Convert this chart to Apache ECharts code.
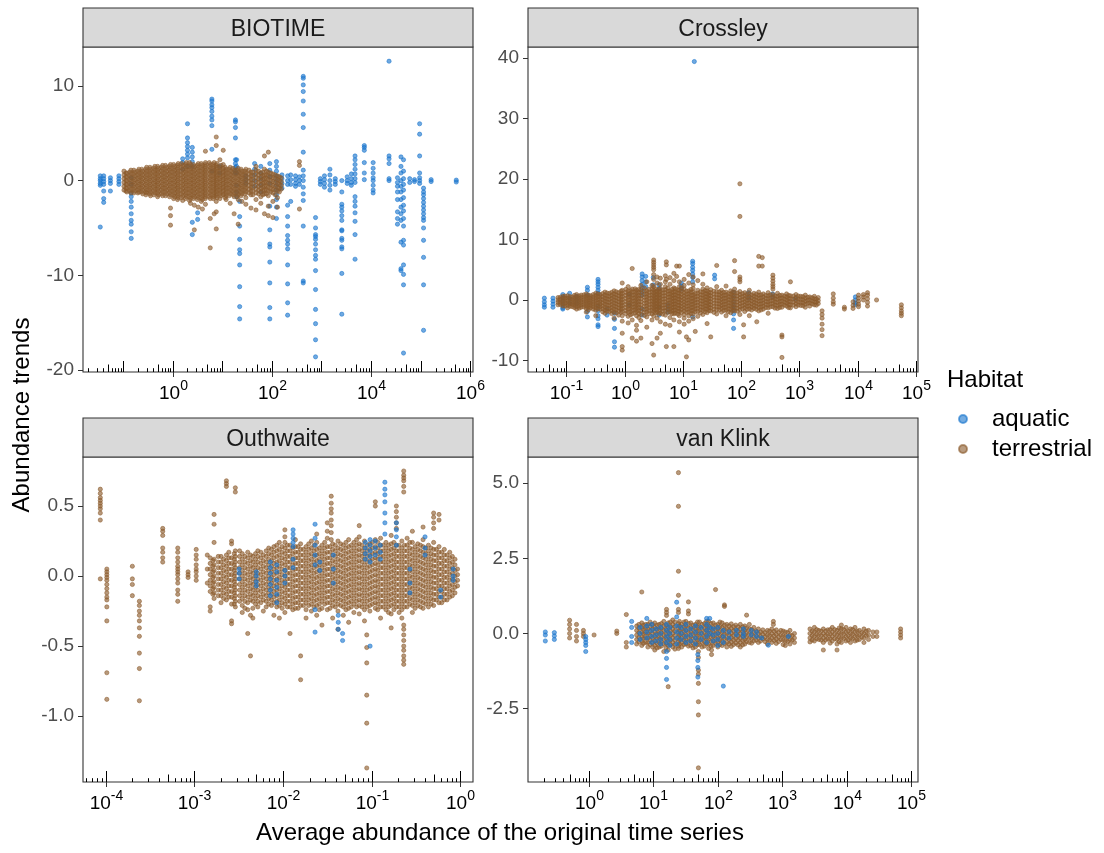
<!DOCTYPE html>
<html>
<head>
<meta charset="utf-8">
<script src="https://cdn.jsdelivr.net/npm/echarts@6/dist/echarts.min.js"></script>
<style>
  html, body { margin: 0; padding: 0; background: #fff; }
  #main { width: 1104px; height: 853px; }
</style>
</head>
<body>
<div id="main"></div>
<script>
// each column: [average abundance, trend, trend, ...]
const bioAquatic = [
  [0.035, 0.5, 0.2, 0, -0.3, -0.5, -4.9],
  [0.041, 0.5, 0.2, -0.1, -0.4, -1.1, -1.9, -2.3],
  [0.056, 0.3, 0, -0.3, -1.1],
  [0.083, 0.5, 0.2, -0.1, -0.4],
  [0.147, 0.3, -0.4, -1.3, -1.7, -2.2, -2.8, -3.5, -4.2, -4.6, -5.4, -6.1],
  [1.6, 2.3, 1.9, 1.2],
  [2.0, 6.0, 4.5, 4.0, 3.6, 3.2, 2.8, 2.4, 1.5],
  [2.5, 3.5, 3.0, 2.5, 2.0, 1.5, -4.4, -5.7],
  [3.2, -3.4, -4.1],
  [6.2, 8.6, 8.4, 8.0, 7.7, 7.3, 6.8, 6.4, 5.8, 3.3, 1.0],
  [8.9, 1.5, 0.8],
  [18.5, 6.4, 6.2, 5.6, 4.5, 2.2, 1.8, 1.4, 1.0, 0.8],
  [19.5, 2.2, 1.5, 0.8, -0.5, -1.2, -1.7],
  [22.5, -2.2, -3.8, -4.8, -6.2, -7.3, -7.7, -8.9, -11.2, -13.3, -14.6],
  [30, 0.5, 0.1, -0.3],
  [45, 1.8, 1.2, 0.6, 0, -0.6],
  [60, 1.5, 0.8, 0.2, -0.5, -1.2],
  [91, 1.8, 1.1, 0.4, -0.3, -2.7, -5.2, -6.7, -7.0, -8.6, -10.8, -13.4, -14.6],
  [124, 2.0, 1.5, 1.0, 0.5, 0, -0.5, -1.0, -1.5, -2.0, -2.8, -4.0],
  [160, 0.6, 0.2, -0.3, -0.8],
  [208, 0.5, 0, -0.4, -2.6, -3.8, -4.8, -5.8, -6.3, -6.7, -7.2, -8.9, -10.9, -12.9, -14.2],
  [240, 0.6, 0.1, -0.4, -2.2],
  [300, 0.5, 0.1, -0.3, -0.6],
  [360, 0.4, 0, -0.4],
  [430, 11.0, 10.8, 10.1, 9.4, 8.4, 7.0, 5.6, 3.0, 1.1, 0.5, 0, -0.7, -1.4, -2.1, -4.8, -10.6, -10.8],
  [760, -3.9, -5.0, -5.7, -5.9, -6.2, -6.7, -7.3, -7.9, -8.3, -9.5, -11.5, -13.6, -15.1, -16.8, -18.6],
  [950, 0.2, -0.1, -0.4],
  [1150, 0.5, 0.1, -0.3, -0.7],
  [1480, 1.2, 0.6, 0, -0.5, -1.0],
  [1900, 0.2, -0.1, -0.4],
  [2570, 0, -1.2, -2.5, -2.8, -3.2, -3.7, -4.2, -5.2, -5.3, -6.1, -6.3, -7.0, -7.2, -9.8, -14.1],
  [3300, 0.4, 0, -0.3],
  [4000, 0.7, 0.2, -0.2, -0.5],
  [4750, 2.6, 2.2, 1.7, 1.2, 0.7, 0.2, -0.2, -1.7, -2.2, -2.7, -3.4, -4.3, -5.7, -8.3],
  [7300, 3.7, 3.5, 3.2, 1.9, 0.8, 0.1],
  [11000, 1.9, 1.3, 0.8, 0.3, 0, -0.5, -1.0, -1.3],
  [23000, 12.6, 2.6, 2.3, 1.8, 0.2, 0],
  [34000, 0.3, -0.2, -0.6, -1.2, -2.0, -3.3, -4.0, -4.6],
  [40000, 2.5, 1.5, 0.8, 0, -0.6, -1.2, -2.0, -2.8, -3.5, -4.2, -6.5, -9.3, -9.5],
  [45000, 2.2, 1.0, 0.2, -0.4, -1.0, -1.8, -2.6, -3.2, -4.0, -4.8, -6.3, -6.8, -8.9, -9.9, -11.0, -18.2],
  [60000, 0.2, -0.2],
  [75000, 0.1, -0.1],
  [95000, 6.0, 4.9, 2.6, 0.8, 0.3, 0, -0.3],
  [114000, -0.8, -1.2, -1.5, -1.9, -2.3, -2.7, -3.1, -3.5, -3.9, -4.2, -5.0, -6.3, -8.1, -11.0, -15.8],
  [162000, 0.1, -0.1],
  [520000, 0.05, -0.15]
];

const bioTerrestrial = [
  [0.105, 1.0, 0.6, 0.2, -0.2, -0.6, -1.0],
  [0.115, 0.8, 0.4, 0, -0.4, -0.8, -1.1],
  [0.12, 0.8, 0.4, 0, -0.4, -0.8, -1.2],
  [0.138, 0.9, 0.5, 0.1, -0.3, -0.7, -1.1],
  [0.145, 1.1, 0.7, 0.3, -0.1, -0.5, -0.9, -1.3],
  [0.166, 1.1, 0.7, 0.3, -0.1, -0.5, -0.9, -1.3],
  [0.174, 0.9, 0.5, 0.1, -0.3, -0.7, -1.1],
  [0.20, 1.0, 0.6, 0.2, -0.2, -0.6, -1.0, -1.3],
  [0.21, 1.2, 0.8, 0.4, 0, -0.4, -0.8, -1.2],
  [0.24, 1.2, 0.8, 0.4, 0, -0.4, -0.8, -1.2],
  [0.25, 1.0, 0.6, 0.2, -0.2, -0.6, -1.0, -1.4],
  [0.29, 1.2, 0.8, 0.4, 0, -0.4, -0.8, -1.2, -1.5],
  [0.30, 1.4, 1.0, 0.6, 0.2, -0.2, -0.6, -1.0, -1.3],
  [0.35, 1.4, 1.0, 0.6, 0.2, -0.2, -0.6, -1.0, -1.4],
  [0.36, 1.2, 0.8, 0.4, 0, -0.4, -0.8, -1.2, -1.6],
  [0.42, 1.3, 0.9, 0.5, 0.1, -0.3, -0.7, -1.1, -1.5],
  [0.44, 1.5, 1.1, 0.7, 0.3, -0.1, -0.5, -0.9, -1.3],
  [0.50, 1.5, 1.1, 0.7, 0.3, -0.1, -0.5, -0.9, -1.3, -1.7],
  [0.52, 1.3, 0.9, 0.5, 0.1, -0.3, -0.7, -1.1, -1.5],
  [0.60, 1.4, 1.0, 0.6, 0.2, -0.2, -0.6, -1.0, -1.4],
  [0.63, 1.6, 1.2, 0.8, 0.4, 0, -0.4, -0.8, -1.2, -1.6],
  [0.72, 1.6, 1.2, 0.8, 0.4, 0, -0.4, -0.8, -1.2, -1.6],
  [0.76, 1.4, 1.0, 0.6, 0.2, -0.2, -0.6, -1.0, -1.4],
  [0.87, 1.5, 1.1, 0.7, 0.3, -0.1, -0.5, -0.9, -1.3, -1.7],
  [0.91, 1.7, 1.3, 0.9, 0.5, 0.1, -0.3, -0.7, -1.1, -1.5, -2.9, -3.7, -4.7],
  [1.05, 1.7, 1.3, 0.9, 0.5, 0.1, -0.3, -0.7, -1.1, -1.5, -1.9],
  [1.1, 1.5, 1.1, 0.7, 0.3, -0.1, -0.5, -0.9, -1.3, -1.7],
  [1.26, 1.6, 1.2, 0.8, 0.4, 0, -0.4, -0.8, -1.2, -1.6, -2.0],
  [1.3, 1.8, 1.4, 1.0, 0.6, 0.2, -0.2, -0.6, -1.0, -1.4, -1.8],
  [1.51, 1.8, 1.4, 1.0, 0.6, 0.2, -0.2, -0.6, -1.0, -1.4, -1.8],
  [1.6, 1.6, 1.2, 0.8, 0.4, 0, -0.4, -0.8, -1.2, -1.6, -2.1],
  [1.82, 1.7, 1.3, 0.9, 0.5, 0.1, -0.3, -0.7, -1.1, -1.5, -1.9],
  [1.9, 1.9, 1.5, 1.1, 0.7, 0.3, -0.1, -0.5, -0.9, -1.3, -1.7],
  [2.19, 1.9, 1.5, 1.1, 0.7, 0.3, -0.1, -0.5, -0.9, -1.3, -1.7, -2.1],
  [2.3, 1.7, 1.3, 0.9, 0.5, 0.1, -0.3, -0.7, -1.1, -1.5, -1.9, -2.4],
  [2.63, 1.7, 1.3, 0.9, 0.5, 0.1, -0.3, -0.7, -1.1, -1.5, -1.9],
  [2.75, 1.5, 1.1, 0.7, 0.3, -0.1, -0.5, -0.9, -1.3, -1.7, -2.6, -5.2],
  [3.16, 1.6, 1.2, 0.8, 0.4, 0, -0.4, -0.8, -1.2, -1.6, -2.0],
  [3.3, 1.8, 1.4, 1.0, 0.6, 0.2, -0.2, -0.6, -1.0, -1.4, -1.8, -2.8],
  [3.8, 1.8, 1.4, 1.0, 0.6, 0.2, -0.2, -0.6, -1.0, -1.4, -1.8, -2.2],
  [4.0, 1.6, 1.2, 0.8, 0.4, 0, -0.4, -0.8, -1.2, -1.6, -2.0, -3.0],
  [4.57, 1.7, 1.3, 0.9, 0.5, 0.1, -0.3, -0.7, -1.1, -1.5, -1.9],
  [4.6, 3.1, 1.9, 1.5, 1.1, 0.7, 0.3, -0.1, -0.5, -0.9, -1.3, -1.7, -2.5],
  [5.5, 1.9, 1.5, 1.1, 0.7, 0.3, -0.1, -0.5, -0.9, -1.3, -1.7],
  [5.75, 1.7, 1.3, 0.9, 0.5, 0.1, -0.3, -0.7, -1.1, -1.5, -1.9, -4.0, -7.1],
  [6.6, 1.7, 1.3, 0.9, 0.5, 0.1, -0.3, -0.7, -1.1, -1.5, -1.9],
  [6.9, 1.9, 1.5, 1.1, 0.7, 0.3, -0.1, -0.5, -0.9, -1.3, -1.7, -3.5],
  [7.6, 4.6, 3.7, 1.6, 1.2, 0.8, 0.4, 0, -0.4, -0.8, -1.2, -1.6, -2.2, -3.3, -5.1],
  [7.9, 1.8, 1.4, 1.0, 0.6, 0.2, -0.2, -0.6, -1.0, -1.4, -1.8],
  [9.0, 2.2, 1.4, 1.0, 0.6, 0.2, -0.2, -0.6, -1.0, -1.4, -1.9],
  [9.5, 1.6, 1.2, 0.8, 0.4, 0, -0.4, -0.8, -1.2, -1.6],
  [10.5, 3.2, 1.7, 1.3, 0.9, 0.5, 0.1, -0.3, -0.7, -1.1, -1.5],
  [11.5, 1.4, 1.0, 0.6, 0.2, -0.2, -0.6, -1.0, -1.4, -1.8],
  [12, 1.2, 0.8, 0.4, 0, -0.4, -0.8, -1.2, -1.6, -2.0],
  [13.8, 1.2, 0.8, 0.4, 0, -0.4, -0.8, -1.2, -1.6],
  [14.5, 1.4, 1.0, 0.6, 0.2, -0.2, -0.6, -1.0, -1.4, -2.4],
  [16.6, 1.3, 0.9, 0.5, 0.1, -0.3, -0.7, -1.1, -1.5],
  [17.4, 1.1, 0.7, 0.3, -0.1, -0.5, -0.9, -1.3, -1.7, -3.5],
  [20, 1.1, 0.7, 0.3, -0.1, -0.5, -0.9, -1.3, -1.7],
  [21, 1.3, 0.9, 0.5, 0.1, -0.3, -0.7, -1.1, -1.5, -2.0, -4.6],
  [24, 1.2, 0.8, 0.4, 0, -0.4, -0.8, -1.2, -1.6],
  [25, 1.0, 0.6, 0.2, -0.2, -0.6, -1.0, -1.4, -2.2],
  [28.8, 1.0, 0.6, 0.2, -0.2, -0.6, -1.0, -1.4],
  [30, 1.2, 0.8, 0.4, 0, -0.4, -0.8, -1.2, -1.8, -2.5],
  [34.7, 1.1, 0.7, 0.3, -0.1, -0.5, -0.9, -1.3],
  [38, 0.9, 0.5, 0.1, -0.3, -0.7, -1.1, -1.5, -2.9],
  [41.7, 0.9, 0.5, 0.1, -0.3, -0.7, -1.1, -1.5],
  [48, 1.5, 1.1, 0.7, 0.3, -0.1, -0.5, -0.9, -1.3, -2.0, -3.1],
  [54, 1.0, 0.6, 0.2, -0.2, -0.6, -1.0, -1.4],
  [60, 0.8, 0.4, 0, -0.4, -0.8, -1.2, -1.7, -2.4],
  [66, 0.9, 0.5, 0.1, -0.3, -0.7, -1.1, -1.5],
  [71, 2.6, 1.2, 0.6, 0.2, -0.2, -0.6, -1.0, -1.4, -3.5],
  [78, 1.0, 0.6, 0.2, -0.2, -0.6, -1.0, -1.4],
  [85, 3.0, 0.9, 0.5, 0.1, -0.3, -0.7, -1.1, -1.6, -2.7, -3.7],
  [95, 0.8, 0.4, 0, -0.4, -0.8, -1.2],
  [105, 0.7, 0.3, -0.1, -0.5, -0.9, -1.3, -2.2, -3.9],
  [117, 0.6, 0.2, -0.2, -0.6, -1.0, -1.5],
  [130, 0.5, 0.1, -0.3, -0.7, -1.1, -1.8, -2.8],
  [142, 0.4, 0, -0.4, -0.8, -1.2],
  [155, 0.3, -0.1, -0.5, -0.9],
  [360, 2.0, 1.6, -3.0]
];

const croAquatic = [
  [0.042, 0.3, -0.3, -0.8, -1.2],
  [0.059, 0.3, -0.2, -0.7, -1.2],
  [0.087, 0.9, 0.4, -0.2, -0.8, -1.3, -1.5],
  [0.114, 1.1, 0.3, -0.5],
  [0.15, 0.6, 0, -0.6],
  [0.23, 2.1, 1.6, 0.8, -1.9, -2.8],
  [0.35, 3.4, 3.0, 2.6, 2.1, 1.6, 1.1, -1.0, -1.8, -2.6, -3.1, -4.1, -4.4],
  [0.5, -1.5, -2.5],
  [0.67, -2.2, -3.2, -4.7, -6.9, -7.8],
  [1.2, 0.9, -0.8],
  [2.0, 4.3, 3.8, 3.2, 2.6, 2.0, 1.4, 0.8, -1.5, -2.5],
  [2.3, 3.9, 3.0, 2.2],
  [3.1, 3.7, 2.5],
  [3.9, 2.5, 1.9, -1.2, -2.5],
  [5.5, -0.8, -1.5, -2.0],
  [9.4, 2.8, 2.3, 1.8],
  [14.7, 6.4, 6.0, 5.4, 4.9, 4.3, 3.7, 3.0, -2.8],
  [15.7, 39.4],
  [35, 4.1, 3.5],
  [74, 1.3, 0.5, -0.3, -1.0, -1.6, -2.3, -3.3, -4.7],
  [134, 1.2, 0.3],
  [346, 1.0, 0.5],
  [850, 0.2],
  [9100, 0.5, 0, -0.5, -0.8]
];

const croTerrestrial = [
  [0.072, 0.4, 0, -0.4, -0.8],
  [0.079, 0.45, 0.05, -0.35, -0.75],
  [0.087, 0.6, 0.2, -0.2, -0.6, -1.0],
  [0.095, 0.65, 0.25, -0.15, -0.55, -0.95],
  [0.105, 0.7, 0.3, -0.1, -0.5, -0.9, -1.3],
  [0.115, 0.55, 0.15, -0.25, -0.65, -1.05],
  [0.126, 0.5, 0.1, -0.3, -0.7, -1.1],
  [0.138, 0.75, 0.35, -0.05, -0.45, -0.85, -1.25],
  [0.15, 0.9, 0.5, 0.1, -0.3, -0.7, -1.1, -1.5],
  [0.166, 0.65, 0.25, -0.15, -0.55, -0.95, -1.35],
  [0.18, 0.8, 0.4, 0, -0.4, -0.8, -1.2],
  [0.20, 0.85, 0.45, 0.05, -0.35, -0.75, -1.15],
  [0.22, 1.0, 0.6, 0.2, -0.2, -0.6, -1.0, -1.4, -2.0],
  [0.24, 0.8, 0.4, 0, -0.4, -0.8, -1.2, -1.6],
  [0.26, 0.7, 0.3, -0.1, -0.5, -0.9, -1.3],
  [0.29, 0.9, 0.5, 0.1, -0.3, -0.7, -1.1, -1.5],
  [0.32, 1.1, 0.7, 0.3, -0.1, -0.5, -0.9, -1.3, -1.7, -2.6],
  [0.35, 1.0, 0.55, 0.05, -0.45, -0.95, -1.45],
  [0.38, 0.9, 0.5, 0.1, -0.3, -0.7, -1.1, -1.5],
  [0.42, 1.05, 0.55, 0.05, -0.45, -0.95, -1.45, -1.95],
  [0.46, 1.3, 0.8, 0.3, -0.2, -0.7, -1.2, -1.7, -2.2],
  [0.50, 1.15, 0.65, 0.15, -0.35, -0.85, -1.35, -1.85],
  [0.55, 1.1, 0.6, 0.1, -0.4, -0.9, -1.4, -1.9],
  [0.60, 1.25, 0.75, 0.25, -0.25, -0.75, -1.25, -1.75, -2.25],
  [0.66, 1.5, 1.0, 0.5, 0, -0.5, -1.0, -1.5, -2.0, -3.0],
  [0.72, 1.35, 0.85, 0.35, -0.15, -0.65, -1.15, -1.65, -2.15],
  [0.79, 1.2, 0.7, 0.2, -0.3, -0.8, -1.3, -1.8, -2.5],
  [0.87, 1.45, 0.95, 0.45, -0.05, -0.55, -1.05, -1.55, -2.05],
  [0.91, 2.8, 1.6, 1.1, 0.6, 0.1, -0.4, -0.9, -1.4, -1.9, -2.6, -3.5, -5.5, -7.7, -8.3],
  [1.05, 1.75, 1.25, 0.75, 0.25, -0.25, -0.75, -1.25, -1.75, -2.25],
  [1.15, 2.2, 1.5, 1.0, 0.5, 0, -0.5, -1.0, -1.5, -2.0, -2.7, -3.8],
  [1.26, 1.55, 1.05, 0.55, 0.05, -0.45, -0.95, -1.45, -1.95, -2.45],
  [1.35, 5.2, 1.8, 1.3, 0.8, 0.3, -0.2, -0.7, -1.2, -1.7, -2.3, -3.3, -6.3],
  [1.51, 1.85, 1.35, 0.85, 0.35, -0.15, -0.65, -1.15, -1.65, -2.15],
  [1.6, 1.6, 1.1, 0.6, 0.1, -0.4, -0.9, -1.4, -1.9, -2.6, -4.2, -5.0, -6.8],
  [1.75, 1.75, 1.25, 0.75, 0.25, -0.25, -0.75, -1.25, -1.75, -2.25, -2.9],
  [1.9, 2.4, 1.7, 1.2, 0.7, 0.2, -0.3, -0.8, -1.3, -1.8, -2.4, -3.4, -6.3],
  [2.19, 1.95, 1.45, 0.95, 0.45, -0.05, -0.55, -1.05, -1.55, -2.05, -2.55],
  [2.4, 3.0, 1.5, 1.0, 0.5, 0, -0.5, -1.0, -1.5, -2.0, -2.8, -4.5],
  [2.63, 1.75, 1.25, 0.75, 0.25, -0.25, -0.75, -1.25, -1.75, -2.25],
  [2.95, 2.4, 1.8, 1.3, 0.8, 0.3, -0.2, -0.7, -1.2, -1.7, -2.3, -3.3, -7.2],
  [3.15, 6.6, 6.2, 5.8, 5.4, 5.0, 4.2, 3.4, 2.2, 1.6, 1.1, 0.6, 0.1, -0.4, -0.9, -1.4, -1.9, -2.6, -9.1],
  [3.4, 1.85, 1.35, 0.85, 0.35, -0.15, -0.65, -1.15, -1.65, -2.15],
  [3.6, 3.8, 2.8, 1.5, 1.0, 0.5, 0, -0.5, -1.0, -1.5, -2.0, -3.0, -6.3],
  [3.85, 1.75, 1.25, 0.75, 0.25, -0.25, -0.75, -1.25, -1.75, -2.25],
  [4.1, 3.6, 2.6, 1.9, 1.4, 0.9, 0.4, -0.1, -0.6, -1.1, -1.6, -2.2, -3.6, -5.5],
  [4.5, 1.65, 1.15, 0.65, 0.15, -0.35, -0.85, -1.35, -1.85, -2.35],
  [5.0, 4.0, 3.0, 2.2, 1.7, 1.2, 0.7, 0.2, -0.3, -0.8, -1.3, -1.8, -2.5, -4.0],
  [5.2, 6.3, 5.8, 3.4, -7.7],
  [5.5, 1.95, 1.45, 0.95, 0.45, -0.05, -0.55, -1.05, -1.55, -2.05],
  [6.0, 3.7, 2.6, 1.5, 1.0, 0.5, 0, -0.5, -1.0, -1.5, -2.0, -2.9, -4.2],
  [6.5, 1.75, 1.25, 0.75, 0.25, -0.25, -0.75, -1.25, -1.75, -2.25],
  [7.0, 4.4, 3.2, 2.0, 1.3, 0.8, 0.3, -0.2, -0.7, -1.2, -1.7, -2.3, -3.3, -7.7],
  [7.4, 1.85, 1.35, 0.85, 0.35, -0.15, -0.65, -1.15, -1.65, -2.15],
  [7.8, 5.6, 3.9],
  [8.2, 1.65, 1.15, 0.65, 0.15, -0.35, -0.85, -1.35, -1.85, -2.35],
  [8.7, 5.6, 3.0, 2.2, 1.6, 1.1, 0.6, 0.1, -0.4, -0.9, -1.4, -1.9, -2.6, -3.6, -5.3],
  [9.5, 1.95, 1.45, 0.95, 0.45, -0.05, -0.55, -1.05, -1.55, -2.05],
  [10.5, 3.4, 2.4, 1.8, 1.2, 0.7, 0.2, -0.3, -0.8, -1.3, -1.8, -2.4, -3.0, -4.0],
  [11.5, 1.45, 0.95, 0.45, -0.05, -0.55, -1.05, -1.55, -2.05, -6.1, -9.4],
  [12.6, 4.2, 2.8, 1.5, 1.0, 0.5, 0, -0.5, -1.0, -1.5, -2.0, -2.6, -3.5, -6.6],
  [13.8, 1.75, 1.25, 0.75, 0.25, -0.25, -0.75, -1.25, -1.75, -2.25],
  [15, 3.8, 2.5, 1.9, 1.3, 0.8, 0.3, -0.2, -0.7, -1.2, -1.7, -2.3, -3.1],
  [16.3, 1.05, 0.55, 0.05, -0.45, -0.95, -1.45, -1.95, -5.2],
  [18, 3.2, 1.6, 1.1, 0.6, 0.1, -0.4, -0.9, -1.4, -1.9, -2.7],
  [20, 1.35, 0.85, 0.35, -0.15, -0.65, -1.15, -1.65, -2.15],
  [22, 4.3, 2.6, 1.8, 1.3, 0.8, 0.3, -0.2, -0.7, -1.2, -1.7, -2.4],
  [24, 1.55, 1.05, 0.55, 0.05, -0.45, -0.95, -1.45, -1.95],
  [26, 2.0, 1.5, 1.0, 0.5, 0, -0.5, -1.0, -1.5, -2.1, -3.9],
  [28, 1.25, 0.75, 0.25, -0.25, -0.75, -1.25, -1.75],
  [30, 1.7, 1.2, 0.7, 0.2, -0.3, -0.8, -1.3, -1.8, -6.1],
  [34, 1.45, 0.95, 0.45, -0.05, -0.55, -1.05, -1.55, -2.05],
  [38, 5.7, 2.2, 1.4, 0.9, 0.4, -0.1, -0.6, -1.1, -1.6, -2.3],
  [42, 1.35, 0.85, 0.35, -0.15, -0.65, -1.15, -1.65],
  [46, 1.6, 1.1, 0.6, 0.1, -0.4, -0.9, -1.4, -2.0],
  [50, 1.25, 0.75, 0.25, -0.25, -0.75, -1.25, -1.75],
  [55, 2.3, 1.3, 0.8, 0.3, -0.2, -0.7, -1.2, -1.7, -2.6],
  [60, 1.05, 0.55, 0.05, -0.45, -0.95, -1.45, -1.95],
  [66, 1.5, 1.0, 0.5, 0, -0.5, -1.0, -1.5, -2.1],
  [71, 1.25, 0.75, 0.25, -0.25, -0.75, -1.25, -1.75],
  [77, 6.5, 4.7, 1.8, 1.2, 0.7, 0.2, -0.3, -0.8, -1.3, -1.8],
  [86, 1.15, 0.65, 0.15, -0.35, -0.85, -1.35, -1.85],
  [95, 19.2, 13.8, 3.8, 3.4, 3.0, 1.4, 0.9, 0.4, -0.1, -0.6, -1.1, -1.6, -2.4],
  [105, 1.05, 0.55, 0.05, -0.45, -0.95, -1.45],
  [110, -4.1, -6.1],
  [115, 1.2, 0.7, 0.2, -0.3, -0.8, -1.3, -1.9],
  [126, 0.95, 0.45, -0.05, -0.55, -1.05, -1.55],
  [138, 1.6, 1.0, 0.5, 0, -0.5, -1.0, -1.5, -2.6],
  [151, 0.85, 0.35, -0.15, -0.65, -1.15, -1.65],
  [166, 1.1, 0.6, 0.1, -0.4, -0.9, -1.4],
  [182, 0.95, 0.45, -0.05, -0.55, -1.05, -1.55],
  [185, -3.6],
  [200, 7.2, 5.6, 1.3, 0.8, 0.3, -0.2, -0.7, -1.2, -1.8],
  [219, 0.85, 0.35, -0.15, -0.65, -1.15, -1.65],
  [230, 7.0, 5.6],
  [240, 1.0, 0.5, 0, -0.5, -1.0, -1.5],
  [263, 0.75, 0.25, -0.25, -0.75, -1.25],
  [290, 1.2, 0.7, 0.2, -0.3, -0.8, -1.3, -2.2],
  [316, 0.85, 0.35, -0.15, -0.65, -1.15],
  [350, 4.1, 3.6, 3.1, 2.6, 2.2, 1.8, 0.9, 0.4, -0.1, -0.6, -1.1],
  [380, 0.65, 0.15, -0.35, -0.85, -1.35],
  [420, 1.1, 0.6, 0.1, -0.4, -0.9, -1.4],
  [457, 0.75, 0.25, -0.25, -0.75, -1.25],
  [500, 0.8, 0.3, -0.2, -0.7, -1.2, -5.8, -6.1, -9.5],
  [550, 0.65, 0.15, -0.35, -0.85],
  [600, 1.0, 0.5, 0, -0.5, -1.0],
  [650, 0.75, 0.25, -0.25, -0.75, -1.25],
  [700, 3.0, 0.7, 0.2, -0.3, -0.8, -1.3],
  [790, 0.65, 0.15, -0.35, -0.85],
  [870, 0.9, 0.4, -0.1, -0.6, -1.1],
  [955, 0.65, 0.15, -0.35, -0.85],
  [1050, 0.6, 0.1, -0.4, -0.9],
  [1150, 0.55, 0.05, -0.45, -0.95],
  [1260, 0.8, 0.3, -0.2, -0.7, -1.2],
  [1380, 0.45, -0.05, -0.55],
  [1500, 0.5, 0, -0.5, -1.0],
  [1650, 0.35, -0.15, -0.65],
  [1800, 0.6, 0.2, -0.3, -0.8],
  [1950, 0.15, -0.35, -0.85],
  [2100, 0.4, -0.1, -0.6],
  [2440, -1.8, -2.4, -3.0, -4.0, -4.9, -5.9],
  [3800, 1.0, 0.3, -0.3, -0.7],
  [5900, -1.2, -1.5],
  [8300, -0.3, -0.9, -1.4],
  [10300, 0.8, 0.3, -0.2, -0.7, -1.1],
  [12500, 0.9, 0.5, 0],
  [14700, 1.2, 0.8, 0.2, -0.4, -1.0],
  [21000, 0],
  [56000, -0.8, -1.3, -1.8, -2.2, -2.6]
];

const outAquatic = [
  [0.0032, 0.05, 0.02, -0.02],
  [0.0050, 0.03, 0, -0.04, -0.07],
  [0.0072, 0.10, 0.06, 0.02, -0.02, -0.06, -0.10, -0.14],
  [0.0085, 0.08, 0.03, -0.03, -0.08, -0.13, -0.19],
  [0.0105, 0.04, 0, -0.05],
  [0.013, 0.33, 0.30, 0.27, 0.24, 0.21, 0.12, 0.06],
  [0.023, 0.37, 0.27, 0.22, 0.15, 0.08, -0.24, -0.40],
  [0.026, 0.10, 0.04],
  [0.037, 0.15, 0.05, -0.05],
  [0.042, -0.28, -0.33, -0.38],
  [0.047, -0.41, -0.46],
  [0.085, 0.24, 0.20, 0.16, 0.12],
  [0.096, 0.26, 0.22, 0.18, 0.14, 0.10, -0.50],
  [0.11, 0.25, 0.20, 0.15],
  [0.125, 0.22, 0.17, 0.12],
  [0.141, 0.67, 0.62, 0.58, 0.53, 0.45, 0.38, 0.30],
  [0.19, 0.38, 0.33, 0.28, 0.22],
  [0.27, 0.05, -0.05, -0.12],
  [0.40, 0.28, 0.20, 0.15],
  [0.6, -0.10, -0.15],
  [0.83, 0.05, 0, -0.03]
];

const outTerrestrial = [
  [0.000087, 0.62, 0.59, 0.56, 0.54, 0.52, 0.50, 0.48, 0.45, 0.40, -0.02],
  [0.000103, 0.05, 0.03, 0.01, -0.01, -0.03, -0.06, -0.09, -0.12, -0.15, -0.17, -0.22, -0.32, -0.69, -0.88],
  [0.0002, 0.07, -0.02, -0.06, -0.14],
  [0.00024, -0.18, -0.21, -0.25, -0.28, -0.32, -0.37, -0.43, -0.55, -0.66, -0.89],
  [0.00044, 0.34, 0.32, 0.29, 0.20, 0.17, 0.13, 0.10],
  [0.00065, 0.20, 0.17, 0.13, 0.10, 0.07, 0.05, 0.03, 0.01, -0.02, -0.05, -0.10, -0.13, -0.18],
  [0.00085, 0.03, 0.01, -0.01],
  [0.00105, 0.19, 0.15, 0.12, 0.08, 0.05, 0.03, 0, -0.03],
  [0.0014, 0.15, 0.05, -0.05],
  [0.00151, 0.13, 0.09, 0.05, 0.01, -0.03, -0.07, -0.11, -0.22, -0.25],
  [0.00162, 0.11, 0.07, 0.03, -0.01, -0.05, -0.09, -0.13],
  [0.00167, 0.44, 0.37, 0.24, 0.12, 0.08, 0.04, 0, -0.04, -0.08, -0.12, -0.16],
  [0.00186, 0.14, 0.10, 0.06, 0.02, -0.02, -0.06, -0.10, -0.14],
  [0.0020, 0.14, 0.10, 0.06, 0.02, -0.02, -0.06, -0.10, -0.14, -0.19],
  [0.00214, 0.12, 0.08, 0.04, 0, -0.04, -0.08, -0.12, -0.16],
  [0.0023, 0.68, 0.66, 0.64, 0.15, 0.11, 0.07, 0.03, -0.01, -0.05, -0.09, -0.13, -0.17],
  [0.00245, 0.17, 0.13, 0.09, 0.05, 0.01, -0.03, -0.07, -0.11, -0.15],
  [0.00263, 0.25, 0.23, 0.13, 0.09, 0.05, 0.01, -0.03, -0.07, -0.11, -0.15, -0.20, -0.32, -0.34],
  [0.00282, 0.16, 0.12, 0.08, 0.04, 0, -0.04, -0.08, -0.12, -0.16, -0.20],
  [0.0029, 0.63, 0.60, 0.18, 0.14, 0.10, 0.06, 0.02, -0.02, -0.06, -0.10, -0.14, -0.18, -0.22],
  [0.00324, 0.18, 0.14, 0.10, 0.06, 0.02, -0.02, -0.06, -0.10, -0.14, -0.18],
  [0.00347, 0.16, 0.12, 0.08, 0.04, 0, -0.04, -0.08, -0.12, -0.16, -0.21, -0.26],
  [0.00372, 0.14, 0.10, 0.06, 0.02, -0.02, -0.06, -0.10, -0.14, -0.18, -0.23],
  [0.0040, 0.17, 0.13, 0.09, 0.05, 0.01, -0.03, -0.07, -0.11, -0.15, -0.19, -0.24, -0.41],
  [0.0043, 0.15, 0.11, 0.07, 0.03, -0.01, -0.05, -0.09, -0.13, -0.17, -0.28, -0.57],
  [0.00457, 0.14, 0.10, 0.06, 0.02, -0.02, -0.06, -0.10, -0.14, -0.18, -0.23, -0.30],
  [0.0049, 0.16, 0.12, 0.08, 0.04, 0, -0.04, -0.08, -0.12, -0.16, -0.20],
  [0.0052, 0.18, 0.14, 0.10, 0.06, 0.02, -0.02, -0.06, -0.10, -0.14, -0.18, -0.22],
  [0.00562, 0.17, 0.13, 0.09, 0.05, 0.01, -0.03, -0.07, -0.11, -0.15, -0.19],
  [0.0060, 0.15, 0.11, 0.07, 0.03, -0.01, -0.05, -0.09, -0.13, -0.17, -0.25],
  [0.00646, 0.18, 0.14, 0.10, 0.06, 0.02, -0.02, -0.06, -0.10, -0.14, -0.18, -0.22],
  [0.0069, 0.20, 0.16, 0.12, 0.08, 0.04, 0, -0.04, -0.08, -0.12, -0.16, -0.20],
  [0.00741, 0.19, 0.15, 0.11, 0.07, 0.03, -0.01, -0.05, -0.09, -0.13, -0.17, -0.21],
  [0.0079, 0.21, 0.17, 0.13, 0.09, 0.05, 0.01, -0.03, -0.07, -0.11, -0.15, -0.19, -0.28],
  [0.00851, 0.22, 0.18, 0.14, 0.10, 0.06, 0.02, -0.02, -0.06, -0.10, -0.14, -0.18, -0.22],
  [0.0091, 0.24, 0.19, 0.15, 0.11, 0.07, 0.03, -0.01, -0.05, -0.09, -0.13, -0.17, -0.21, -0.30],
  [0.00977, 0.21, 0.17, 0.13, 0.09, 0.05, 0.01, -0.03, -0.07, -0.11, -0.15, -0.19, -0.23],
  [0.0105, 0.33, 0.28, 0.24, 0.20, 0.16, 0.12, 0.08, 0.04, 0, -0.04, -0.08, -0.12, -0.16, -0.20, -0.26],
  [0.0112, 0.22, 0.18, 0.14, 0.10, 0.06, 0.02, -0.02, -0.06, -0.10, -0.14, -0.18, -0.22],
  [0.012, 0.22, 0.18, 0.14, 0.10, 0.06, 0.02, -0.02, -0.06, -0.10, -0.14, -0.18, -0.22, -0.41],
  [0.0129, 0.20, 0.16, 0.12, 0.08, 0.04, 0, -0.04, -0.08, -0.12, -0.16, -0.20, -0.24],
  [0.0138, 0.26, 0.21, 0.17, 0.13, 0.09, 0.05, 0.01, -0.03, -0.07, -0.11, -0.15, -0.19, -0.23],
  [0.0148, 0.21, 0.17, 0.13, 0.09, 0.05, 0.01, -0.03, -0.07, -0.11, -0.15, -0.19, -0.23],
  [0.0158, 0.23, 0.19, 0.15, 0.11, 0.07, 0.03, -0.01, -0.05, -0.09, -0.13, -0.17, -0.21, -0.57, -0.74],
  [0.017, 0.19, 0.15, 0.11, 0.07, 0.03, -0.01, -0.05, -0.09, -0.13, -0.17, -0.21],
  [0.0182, 0.21, 0.17, 0.13, 0.09, 0.05, 0.01, -0.03, -0.07, -0.11, -0.15, -0.19, -0.24, -0.30],
  [0.0195, 0.23, 0.19, 0.15, 0.11, 0.07, 0.03, -0.01, -0.05, -0.09, -0.13, -0.17, -0.21],
  [0.0209, 0.25, 0.20, 0.16, 0.12, 0.08, 0.04, 0, -0.04, -0.08, -0.12, -0.16, -0.20, -0.25],
  [0.0224, 0.22, 0.18, 0.14, 0.10, 0.06, 0.02, -0.02, -0.06, -0.10, -0.14, -0.18, -0.22],
  [0.024, 0.30, 0.24, 0.19, 0.15, 0.11, 0.07, 0.03, -0.01, -0.05, -0.09, -0.13, -0.17, -0.21, -0.28],
  [0.0257, 0.20, 0.16, 0.12, 0.08, 0.04, 0, -0.04, -0.08, -0.12, -0.16, -0.20, -0.24],
  [0.0275, 0.22, 0.18, 0.14, 0.10, 0.06, 0.02, -0.02, -0.06, -0.10, -0.14, -0.18, -0.23, -0.35],
  [0.0295, 0.24, 0.20, 0.16, 0.12, 0.08, 0.04, 0, -0.04, -0.08, -0.12, -0.16, -0.20],
  [0.0316, 0.38, 0.32, 0.27, 0.21, 0.17, 0.13, 0.09, 0.05, 0.01, -0.03, -0.07, -0.11, -0.15, -0.19, -0.24],
  [0.0339, 0.21, 0.17, 0.13, 0.09, 0.05, 0.01, -0.03, -0.07, -0.11, -0.15, -0.19, -0.23],
  [0.035, 0.57, 0.52, 0.48, 0.45, 0.40, 0.36, 0.31, 0.26],
  [0.0363, 0.23, 0.19, 0.15, 0.11, 0.07, 0.03, -0.01, -0.05, -0.09, -0.13, -0.17, -0.21, -0.30],
  [0.0389, 0.22, 0.18, 0.14, 0.10, 0.06, 0.02, -0.02, -0.06, -0.10, -0.14, -0.18, -0.22],
  [0.0417, 0.25, 0.20, 0.16, 0.12, 0.08, 0.04, 0, -0.04, -0.08, -0.12, -0.16, -0.20, -0.25, -0.38],
  [0.0447, 0.23, 0.19, 0.15, 0.11, 0.07, 0.03, -0.01, -0.05, -0.09, -0.13, -0.17, -0.21],
  [0.0479, 0.22, 0.18, 0.14, 0.10, 0.06, 0.02, -0.02, -0.06, -0.10, -0.14, -0.18, -0.22, -0.28],
  [0.0513, 0.24, 0.20, 0.16, 0.12, 0.08, 0.04, 0, -0.04, -0.08, -0.12, -0.16, -0.20, -0.24],
  [0.055, 0.26, 0.21, 0.17, 0.13, 0.09, 0.05, 0.01, -0.03, -0.07, -0.11, -0.15, -0.19, -0.23, -0.33],
  [0.0589, 0.22, 0.18, 0.14, 0.10, 0.06, 0.02, -0.02, -0.06, -0.10, -0.14, -0.18, -0.22],
  [0.063, 0.24, 0.20, 0.16, 0.12, 0.08, 0.04, 0, -0.04, -0.08, -0.12, -0.16, -0.20, -0.26],
  [0.0676, 0.26, 0.22, 0.18, 0.14, 0.10, 0.06, 0.02, -0.02, -0.06, -0.10, -0.14, -0.18, -0.22],
  [0.0724, 0.36, 0.28, 0.23, 0.19, 0.15, 0.11, 0.07, 0.03, -0.01, -0.05, -0.09, -0.13, -0.17, -0.21, -0.27],
  [0.0776, 0.22, 0.18, 0.14, 0.10, 0.06, 0.02, -0.02, -0.06, -0.10, -0.14, -0.18, -0.22],
  [0.083, 0.25, 0.20, 0.16, 0.12, 0.08, 0.04, 0, -0.04, -0.08, -0.12, -0.16, -0.20, -0.24, -0.32],
  [0.088, -0.42, -0.51, -0.62, -0.85, -1.05, -1.37],
  [0.0891, 0.22, 0.18, 0.14, 0.10, 0.06, 0.02, -0.02, -0.06, -0.10, -0.14, -0.18, -0.22],
  [0.0955, 0.23, 0.19, 0.15, 0.11, 0.07, 0.03, -0.01, -0.05, -0.09, -0.13, -0.17, -0.21, -0.25],
  [0.102, 0.24, 0.20, 0.16, 0.12, 0.08, 0.04, 0, -0.04, -0.08, -0.12, -0.16, -0.20],
  [0.11, 0.53, 0.50, 0.26, 0.21, 0.17, 0.13, 0.09, 0.05, 0.01, -0.03, -0.07, -0.11, -0.15, -0.19, -0.23],
  [0.117, 0.24, 0.20, 0.16, 0.12, 0.08, 0.04, 0, -0.04, -0.08, -0.12, -0.16, -0.20, -0.24],
  [0.126, 0.27, 0.22, 0.18, 0.14, 0.10, 0.06, 0.02, -0.02, -0.06, -0.10, -0.14, -0.18, -0.22, -0.30],
  [0.135, 0.22, 0.18, 0.14, 0.10, 0.06, 0.02, -0.02, -0.06, -0.10, -0.14, -0.18, -0.22],
  [0.145, 0.24, 0.20, 0.16, 0.12, 0.08, 0.04, 0, -0.04, -0.08, -0.12, -0.16, -0.20, -0.24],
  [0.155, 0.22, 0.18, 0.14, 0.10, 0.06, 0.02, -0.02, -0.06, -0.10, -0.14, -0.18, -0.22, -0.26],
  [0.166, 0.29, 0.23, 0.19, 0.15, 0.11, 0.07, 0.03, -0.01, -0.05, -0.09, -0.13, -0.17, -0.21, -0.27, -0.37],
  [0.178, 0.24, 0.20, 0.16, 0.12, 0.08, 0.04, 0, -0.04, -0.08, -0.12, -0.16, -0.20, -0.24],
  [0.19, 0.50, 0.46, 0.42, 0.38, 0.34, 0.22, 0.18, 0.14, 0.10, 0.06, 0.02, -0.02, -0.06, -0.10, -0.14, -0.18, -0.22],
  [0.204, 0.22, 0.18, 0.14, 0.10, 0.06, 0.02, -0.02, -0.06, -0.10, -0.14, -0.18, -0.22, -0.26],
  [0.219, 0.25, 0.20, 0.16, 0.12, 0.08, 0.04, 0, -0.04, -0.08, -0.12, -0.16, -0.20, -0.24, -0.30],
  [0.23, 0.75, 0.72, 0.70, 0.68, 0.64, 0.60, -0.35, -0.38, -0.42, -0.46, -0.50, -0.53, -0.57, -0.60, -0.63],
  [0.234, 0.22, 0.18, 0.14, 0.10, 0.06, 0.02, -0.02, -0.06, -0.10, -0.14, -0.18, -0.22],
  [0.251, 0.27, 0.22, 0.18, 0.14, 0.10, 0.06, 0.02, -0.02, -0.06, -0.10, -0.14, -0.18, -0.22],
  [0.269, 0.24, 0.20, 0.16, 0.12, 0.08, 0.04, 0, -0.04, -0.08, -0.12, -0.16, -0.20],
  [0.288, 0.32, 0.24, 0.19, 0.15, 0.11, 0.07, 0.03, -0.01, -0.05, -0.09, -0.13, -0.17, -0.21, -0.26],
  [0.309, 0.21, 0.17, 0.13, 0.09, 0.05, 0.01, -0.03, -0.07, -0.11, -0.15, -0.19, -0.23],
  [0.331, 0.23, 0.19, 0.15, 0.11, 0.07, 0.03, -0.01, -0.05, -0.09, -0.13, -0.17, -0.21],
  [0.355, 0.22, 0.18, 0.14, 0.10, 0.06, 0.02, -0.02, -0.06, -0.10, -0.14, -0.18, -0.22],
  [0.38, 0.35, 0.26, 0.21, 0.17, 0.13, 0.09, 0.05, 0.01, -0.03, -0.07, -0.11, -0.15, -0.19, -0.23],
  [0.407, 0.20, 0.16, 0.12, 0.08, 0.04, 0, -0.04, -0.08, -0.12, -0.16, -0.20],
  [0.437, 0.22, 0.18, 0.14, 0.10, 0.06, 0.02, -0.02, -0.06, -0.10, -0.14, -0.18, -0.22],
  [0.468, 0.20, 0.16, 0.12, 0.08, 0.04, 0, -0.04, -0.08, -0.12, -0.16, -0.20],
  [0.50, 0.45, 0.42, 0.38, 0.34, 0.24, 0.19, 0.15, 0.11, 0.07, 0.03, -0.01, -0.05, -0.09, -0.13, -0.17, -0.21],
  [0.537, 0.19, 0.15, 0.11, 0.07, 0.03, -0.01, -0.05, -0.09, -0.13, -0.17],
  [0.575, 0.44, 0.40, 0.21, 0.17, 0.13, 0.09, 0.05, 0.01, -0.03, -0.07, -0.11, -0.15, -0.19],
  [0.617, 0.17, 0.13, 0.09, 0.05, 0.01, -0.03, -0.07, -0.11, -0.15, -0.19],
  [0.66, 0.19, 0.15, 0.11, 0.07, 0.03, -0.01, -0.05, -0.09, -0.13, -0.17],
  [0.708, 0.15, 0.11, 0.07, 0.03, -0.01, -0.05, -0.09, -0.13, -0.17],
  [0.76, 0.17, 0.13, 0.09, 0.05, 0.01, -0.03, -0.07, -0.11, -0.15],
  [0.813, 0.14, 0.10, 0.06, 0.02, -0.02, -0.06, -0.10, -0.14],
  [0.87, 0.12, 0.08, 0.04, 0, -0.04, -0.08, -0.12],
  [0.93, 0.05, 0.01, -0.03, -0.07]
];

const vkAquatic = [
  [0.21, 0.05, -0.05, -0.25],
  [0.29, 0.03, -0.08, -0.2],
  [0.89, -0.1, -0.2, -0.3, -0.4, -0.6],
  [4.6, 0.4, 0.2, -0.1, -0.3],
  [6.2, 0.2, 0, -0.2],
  [7.9, 0.5, 0.25, 0.05, -0.15],
  [9.4, 0.3, 0.1, -0.1, -0.3],
  [11, 0.15, -0.05, -0.25],
  [13, 0.2, 0, -0.2, -0.35],
  [16, 0.3, 0.1, -0.1, -0.3, -0.6, -0.83, -1.13, -1.53],
  [18, 0.2, 0, -0.2, -0.4],
  [23, 1.04, 0.55, 0.25, 0.05, -0.15, -0.35],
  [27, 0.2, 0, -0.2],
  [32, 0.3, 0.1, -0.1, -0.3],
  [38, 0.15, -0.05, -0.25],
  [45, 0.25, 0.05, -0.15, -0.35],
  [49, -0.7, -0.9, -1.13, -1.45],
  [55, 0.2, 0, -0.2],
  [67, 0.5, 0.3, 0.1, -0.1, -0.3],
  [75, 0.5, 0.2, 0],
  [85, 0.15, -0.05, -0.25],
  [100, 0.2, 0, -0.2, -0.4],
  [122, 0.1, -0.1, -0.3, -1.75],
  [150, 0.05, -0.15],
  [195, 0.1, -0.05],
  [250, 0.15, 0, -0.1],
  [330, 0.1, -0.05],
  [400, 0.05, -0.1],
  [480, -0.15],
  [610, -0.39],
  [1250, -0.1]
];

const vkTerrestrial = [
  [0.5, 0.44, 0.3, 0.15, 0, -0.15],
  [0.64, 0.3, 0.1, -0.1, -0.25],
  [0.82, 0.1, 0, -0.1],
  [1.2, -0.05],
  [2.7, 0.08, 0],
  [3.8, 0.63, -0.3, -0.45],
  [5.5, 0.25, 0.1, -0.05, -0.2, -0.35],
  [5.96, 0.3, 0.18, 0.03, -0.13, -0.28],
  [6.6, 1.38, 0.35, 0.2, 0.05, -0.1, -0.25, -0.4],
  [7.0, 0.28, 0.13, -0.02, -0.17, -0.33],
  [7.6, 0.3, 0.15, 0, -0.15, -0.3],
  [8.2, 0.3, 0.15, 0, -0.15, -0.3, -0.45],
  [8.9, 0.38, 0.23, 0.08, -0.07, -0.22, -0.37],
  [9.7, 0.3, 0.15, 0, -0.15, -0.3, -0.45],
  [10.5, 0.35, 0.2, 0.05, -0.1, -0.25, -0.4, -0.55],
  [11.4, 0.28, 0.13, -0.02, -0.17, -0.33, -0.48],
  [12.3, 0.3, 0.15, 0, -0.15, -0.3, -0.45],
  [13.3, 0.33, 0.18, 0.03, -0.12, -0.27, -0.42],
  [14.5, 0.4, 0.25, 0.1, -0.05, -0.2, -0.35, -0.6],
  [15.7, 0.28, 0.13, -0.02, -0.17, -0.33, -0.48],
  [16, 0.8, 0.7, 0.6],
  [17, 0.35, 0.2, 0.05, -0.1, -0.25, -0.4, -0.55, -1.77],
  [18.4, 0.38, 0.23, 0.08, -0.07, -0.22, -0.37],
  [20, 0.45, 0.3, 0.15, 0, -0.15, -0.3, -0.45],
  [21.6, 0.38, 0.23, 0.08, -0.07, -0.22, -0.37, -0.52],
  [24.5, 5.35, 4.23, 2.07, 1.27, 0.8, 0.7, 0.33, 0.18, 0.03, -0.12, -0.27, -0.42, -0.5],
  [25.4, 0.4, 0.25, 0.1, -0.05, -0.2, -0.35],
  [27.5, 0.3, 0.15, 0, -0.15, -0.3, -0.45],
  [29.9, 0.38, 0.23, 0.08, -0.07, -0.22, -0.37],
  [32, 0.4, 0.25, 0.1, -0.05, -0.2, -0.35],
  [35, 1.05, 0.75, 0.65, 0.33, 0.18, 0.03, -0.12, -0.27, -0.42],
  [38, 0.35, 0.2, 0.05, -0.1, -0.25, -0.4],
  [41.2, 0.28, 0.13, -0.02, -0.17, -0.33, -0.48],
  [45, 0.3, 0.15, 0, -0.15, -0.3, -0.45],
  [48.4, 0.38, 0.23, 0.08, -0.07, -0.22, -0.37],
  [50, -0.6, -0.8, -1.22, -1.35, -1.66, -2.27, -2.71, -4.47],
  [52, 0.38, 0.23, 0.08, -0.07, -0.22, -0.37],
  [56.9, 0.3, 0.15, 0, -0.15, -0.3, -0.45],
  [62, 0.33, 0.18, 0.03, -0.12, -0.27, -0.42],
  [66.8, 0.4, 0.25, 0.1, -0.05, -0.2, -0.35],
  [72, 0.4, 0.25, 0.1, -0.05, -0.2, -0.35, -0.5],
  [78.5, 0.33, 0.18, 0.03, -0.12, -0.27, -0.42],
  [80, -0.55, -0.7],
  [85, 0.35, 0.2, 0.05, -0.1, -0.25, -0.4],
  [92.3, 1.46, 0.28, 0.13, -0.02, -0.17, -0.33],
  [100, 0.3, 0.15, 0, -0.15, -0.3, -0.45],
  [108, 0.38, 0.23, 0.08, -0.07, -0.22, -0.37],
  [117, 0.35, 0.2, 0.05, -0.1, -0.25, -0.4],
  [127, 0.95, 0.9, 0.28, 0.13, -0.02, -0.17, -0.33],
  [138, 0.3, 0.15, 0, -0.15, -0.3, -0.45],
  [150, 0.25, 0.1, -0.05, -0.2, -0.35],
  [162, 0.32, 0.17, 0.02, -0.13, -0.28, -0.43],
  [176, 0.23, 0.08, -0.07, -0.22, -0.37],
  [190, 0.28, 0.13, -0.02, -0.17, -0.32],
  [207, 0.22, 0.07, -0.08, -0.23, -0.38],
  [224, 0.3, 0.15, 0, -0.15, -0.3, -0.45],
  [243, 0.22, 0.07, -0.08, -0.23, -0.38],
  [263, 0.25, 0.1, -0.05, -0.2, -0.35],
  [280, 0.61, 0.18, 0.03, -0.12, -0.27],
  [309, 0.3, 0.15, 0, -0.15, -0.3],
  [335, 0.13, -0.02, -0.17, -0.32],
  [363, 0.2, 0.05, -0.1, -0.25],
  [394, 0.08, -0.07, -0.22],
  [427, 0.15, 0, -0.15, -0.3],
  [462, 0.05, -0.1, -0.25],
  [500, 0.12, -0.03, -0.18],
  [543, 0.03, -0.12, -0.27],
  [590, 0.1, -0.05, -0.2, -0.35],
  [638, 0.08, -0.07, -0.22],
  [690, 0.15, 0, -0.15, -0.3],
  [730, 0.4, 0.3],
  [750, 0.07, -0.08, -0.23],
  [810, 0.12, -0.03, -0.18, -0.33],
  [881, 0.03, -0.12, -0.27],
  [955, 0.1, -0.05, -0.2],
  [1035, 0.08, -0.07, -0.22, -0.37],
  [1120, 0.05, -0.1, -0.25, -0.4],
  [1216, 0.03, -0.12, -0.27],
  [1320, 0.1, -0.05, -0.2, -0.35],
  [1430, -0.07, -0.22],
  [1550, 0, -0.15, -0.3],
  [2700, 0.15, 0, -0.15, -0.28],
  [2920, 0.08, -0.07, -0.22],
  [3160, 0.2, 0.05, -0.1, -0.25],
  [3430, 0.13, -0.02, -0.17],
  [3700, 0.1, -0.05, -0.2],
  [4030, 0.08, -0.07, -0.22],
  [4360, 0.15, 0, -0.15, -0.3, -0.55],
  [4730, 0.08, -0.07, -0.22],
  [5100, 0.12, -0.03, -0.18],
  [5560, 0.13, -0.02, -0.17, -0.32],
  [6000, 0.2, 0.05, -0.1, -0.25],
  [6530, 0.13, -0.02, -0.17],
  [7100, 0.1, -0.05, -0.2, -0.35, -0.55],
  [7670, 0.18, 0.03, -0.12, -0.27],
  [8300, 0.28, 0.15, 0, -0.15, -0.3],
  [9020, 0.13, -0.02, -0.17],
  [9800, 0.2, 0.05, -0.1, -0.25],
  [10600, 0.08, -0.07, -0.22],
  [11500, 0.15, 0, -0.15, -0.3],
  [12400, 0.13, -0.02, -0.17],
  [13500, 0.2, 0.05, -0.1, -0.25],
  [14600, 0.08, -0.07, -0.22],
  [15800, 0.1, -0.05, -0.2],
  [17200, 0.03, -0.12],
  [18600, 0.15, 0, -0.15, -0.3],
  [20200, 0.08, -0.07],
  [21900, 0.1, -0.05, -0.2],
  [25700, 0.05, -0.1],
  [29500, 0.05, -0.1],
  [69000, 0.15, 0.05, -0.05, -0.15]
];

// tick labels
const bioYTicks = [-20, -10, 0, 10];
const croYTicks = [-10, 0, 10, 20, 30, 40];
const outYTicks = [-1, -0.5, 0, 0.5];
const vkYTicks = [-2.5, 0, 2.5, 5];
const bioXLabels = [0, 2, 4, 6];      // powers of ten
const croXLabels = [-1, 0, 1, 2, 3, 4, 5];
const outXLabels = [-4, -3, -2, -1, 0];
const vkXLabels = [0, 1, 2, 3, 4, 5];

const FONT = 'Liberation Sans';
const AQUA = '#1874CD';
const TERR = '#8B5A2B';

const panels = [
  { title: 'BIOTIME', left: 83, top: 47, xMin: 0.0157, xMax: 1.13e6, yMin: -20.2, yMax: 14.1,
    yTicks: bioYTicks, xLabels: bioXLabels, digits: 0, aq: bioAquatic, te: bioTerrestrial, aqOnTop: false },
  { title: 'Crossley', left: 528, top: 47, xMin: 0.022, xMax: 1.08e5, yMin: -11.9, yMax: 41.8,
    yTicks: croYTicks, xLabels: croXLabels, digits: 0, aq: croAquatic, te: croTerrestrial, aqOnTop: false },
  { title: 'Outhwaite', left: 83, top: 457, xMin: 5.55e-5, xMax: 1.39, yMin: -1.47, yMax: 0.85,
    yTicks: outYTicks, xLabels: outXLabels, digits: 1, aq: outAquatic, te: outTerrestrial, aqOnTop: true },
  { title: 'van Klink', left: 528, top: 457, xMin: 0.113, xMax: 1.285e5, yMin: -4.94, yMax: 5.87,
    yTicks: vkYTicks, xLabels: vkXLabels, digits: 1, aq: vkAquatic, te: vkTerrestrial, aqOnTop: true }
];
const W = 390, H = 325;

function columnsToPoints(cols) {
  const pts = [];
  cols.forEach(function (c) {
    for (let i = 1; i < c.length; i++) pts.push([c[0], c[i]]);
  });
  return pts;
}

// annotation log ticks: 1 = long, 5 = medium, others short
function logTickData(p) {
  const out = [];
  const e0 = Math.floor(Math.log10(p.xMin)), e1 = Math.ceil(Math.log10(p.xMax));
  for (let e = e0; e <= e1; e++) {
    for (let m = 1; m <= 9; m++) {
      const v = Number((m * Math.pow(10, e)).toPrecision(6));
      if (v < p.xMin || v > p.xMax) continue;
      const kind = m === 1 ? 2 : (m === 5 ? 1 : 0);
      const lab = (m === 1 && p.xLabels.indexOf(e) >= 0) ? e : 99;
      out.push([v, 0, kind, lab]);
    }
  }
  return out;
}

const labelRich = {
  b: { fontSize: 19, fontFamily: FONT, color: '#4D4D4D', lineHeight: 24, verticalAlign: 'bottom' },
  s: { fontSize: 14, fontFamily: FONT, color: '#4D4D4D', lineHeight: 14, verticalAlign: 'top' }
};

function renderLogTick(params, api) {
  const cs = params.coordSys;
  const x = Math.round(api.coord([api.value(0), 0])[0]) + 0.5;
  const base = cs.y + cs.height;
  const len = [3.8, 7.5, 11][api.value(2)];
  const children = [{
    type: 'line',
    shape: { x1: x, y1: base, x2: x, y2: base - len },
    style: { stroke: '#000', lineWidth: 1 }
  }];
  const e = api.value(3);
  if (e !== 99) {
    children.push({
      type: 'line',
      shape: { x1: x, y1: base, x2: x, y2: base + 5 },
      style: { stroke: '#333', lineWidth: 1 }
    });
    children.push({
      type: 'text',
      x: x,
      y: base + 7.5,
      style: {
        text: '{b|10}{s|' + e + '}',
        rich: labelRich,
        align: 'center',
        verticalAlign: 'top'
      }
    });
  }
  return { type: 'group', children: children };
}

const grids = [], xAxes = [], yAxes = [], series = [], graphics = [];

panels.forEach(function (p, i) {
  grids.push({
    left: p.left, top: p.top, width: W, height: H,
    show: true, borderColor: '#333333', borderWidth: 1.1, backgroundColor: 'rgba(0,0,0,0)'
  });
  xAxes.push({
    gridIndex: i, type: 'log', logBase: 10, min: p.xMin, max: p.xMax,
    axisLine: { show: false }, axisTick: { show: false }, axisLabel: { show: false },
    splitLine: { show: false }
  });
  yAxes.push({
    gridIndex: i, type: 'value', min: p.yMin, max: p.yMax,
    axisLine: { show: false },
    splitLine: { show: false },
    axisTick: { show: true, length: 5, lineStyle: { color: '#333333', width: 1 }, customValues: p.yTicks },
    axisLabel: {
      customValues: p.yTicks, color: '#4D4D4D', fontSize: 19, fontFamily: FONT, margin: 9,
      formatter: function (v) { return p.digits ? Number(v).toFixed(p.digits) : String(v); }
    }
  });

  const aqSeries = {
    name: 'aquatic', type: 'scatter', xAxisIndex: i, yAxisIndex: i,
    data: columnsToPoints(p.aq), symbol: 'circle', symbolSize: 4.2,
    itemStyle: { color: AQUA, opacity: 0.62, borderColor: AQUA, borderWidth: 0.9 },
    emphasis: { disabled: true }
  };
  const teSeries = {
    name: 'terrestrial', type: 'scatter', xAxisIndex: i, yAxisIndex: i,
    data: columnsToPoints(p.te), symbol: 'circle', symbolSize: 4.2,
    itemStyle: { color: TERR, opacity: 0.62, borderColor: TERR, borderWidth: 0.9 },
    emphasis: { disabled: true }
  };
  if (p.aqOnTop) { series.push(teSeries, aqSeries); } else { series.push(aqSeries, teSeries); }

  series.push({
    name: 'logticks' + i, type: 'custom', xAxisIndex: i, yAxisIndex: i,
    data: logTickData(p), encode: { x: 0, y: 1 }, clip: false, z: 5,
    renderItem: renderLogTick, silent: true
  });

  // facet strip
  graphics.push({
    type: 'rect', shape: { x: p.left, y: p.top - 39, width: W, height: 39 },
    style: { fill: '#D9D9D9', stroke: '#333333', lineWidth: 1.1 }
  });
  graphics.push({
    type: 'text', x: p.left + W / 2, y: p.top - 17,
    style: { text: p.title, font: '23px "Liberation Sans"', fill: '#1A1A1A',
      align: 'center', verticalAlign: 'middle', textAlign: 'center', textVerticalAlign: 'middle' }
  });
});

graphics.push({
  type: 'text', x: 22, y: 415, rotation: Math.PI / 2,
  style: { text: 'Abundance trends', font: '24px "Liberation Sans"', fill: '#000',
    align: 'center', verticalAlign: 'middle', textAlign: 'center', textVerticalAlign: 'middle' }
});
graphics.push({
  type: 'text', x: 500, y: 833,
  style: { text: 'Average abundance of the original time series', font: '24px "Liberation Sans"', fill: '#000',
    align: 'center', verticalAlign: 'middle', textAlign: 'center', textVerticalAlign: 'middle' }
});
graphics.push({
  type: 'text', x: 947, y: 380,
  style: { text: 'Habitat', font: '24px "Liberation Sans"', fill: '#000',
    align: 'left', verticalAlign: 'middle', textAlign: 'left', textVerticalAlign: 'middle' }
});

const chart = echarts.init(document.getElementById('main'), null, { renderer: 'canvas' });
chart.setOption({
  animation: false,
  backgroundColor: '#ffffff',
  textStyle: { fontFamily: FONT },
  grid: grids,
  xAxis: xAxes,
  yAxis: yAxes,
  legend: {
    data: ['aquatic', 'terrestrial'],
    orient: 'vertical', left: 953, top: 402,
    icon: 'circle', itemWidth: 8, itemHeight: 8, itemGap: 6,
    itemStyle: { opacity: 0.6 },
    textStyle: { fontSize: 24, fontFamily: FONT, color: '#000', padding: [0, 0, 0, 20] }
  },
  graphic: graphics,
  series: series
});
</script>
</body>
</html>
